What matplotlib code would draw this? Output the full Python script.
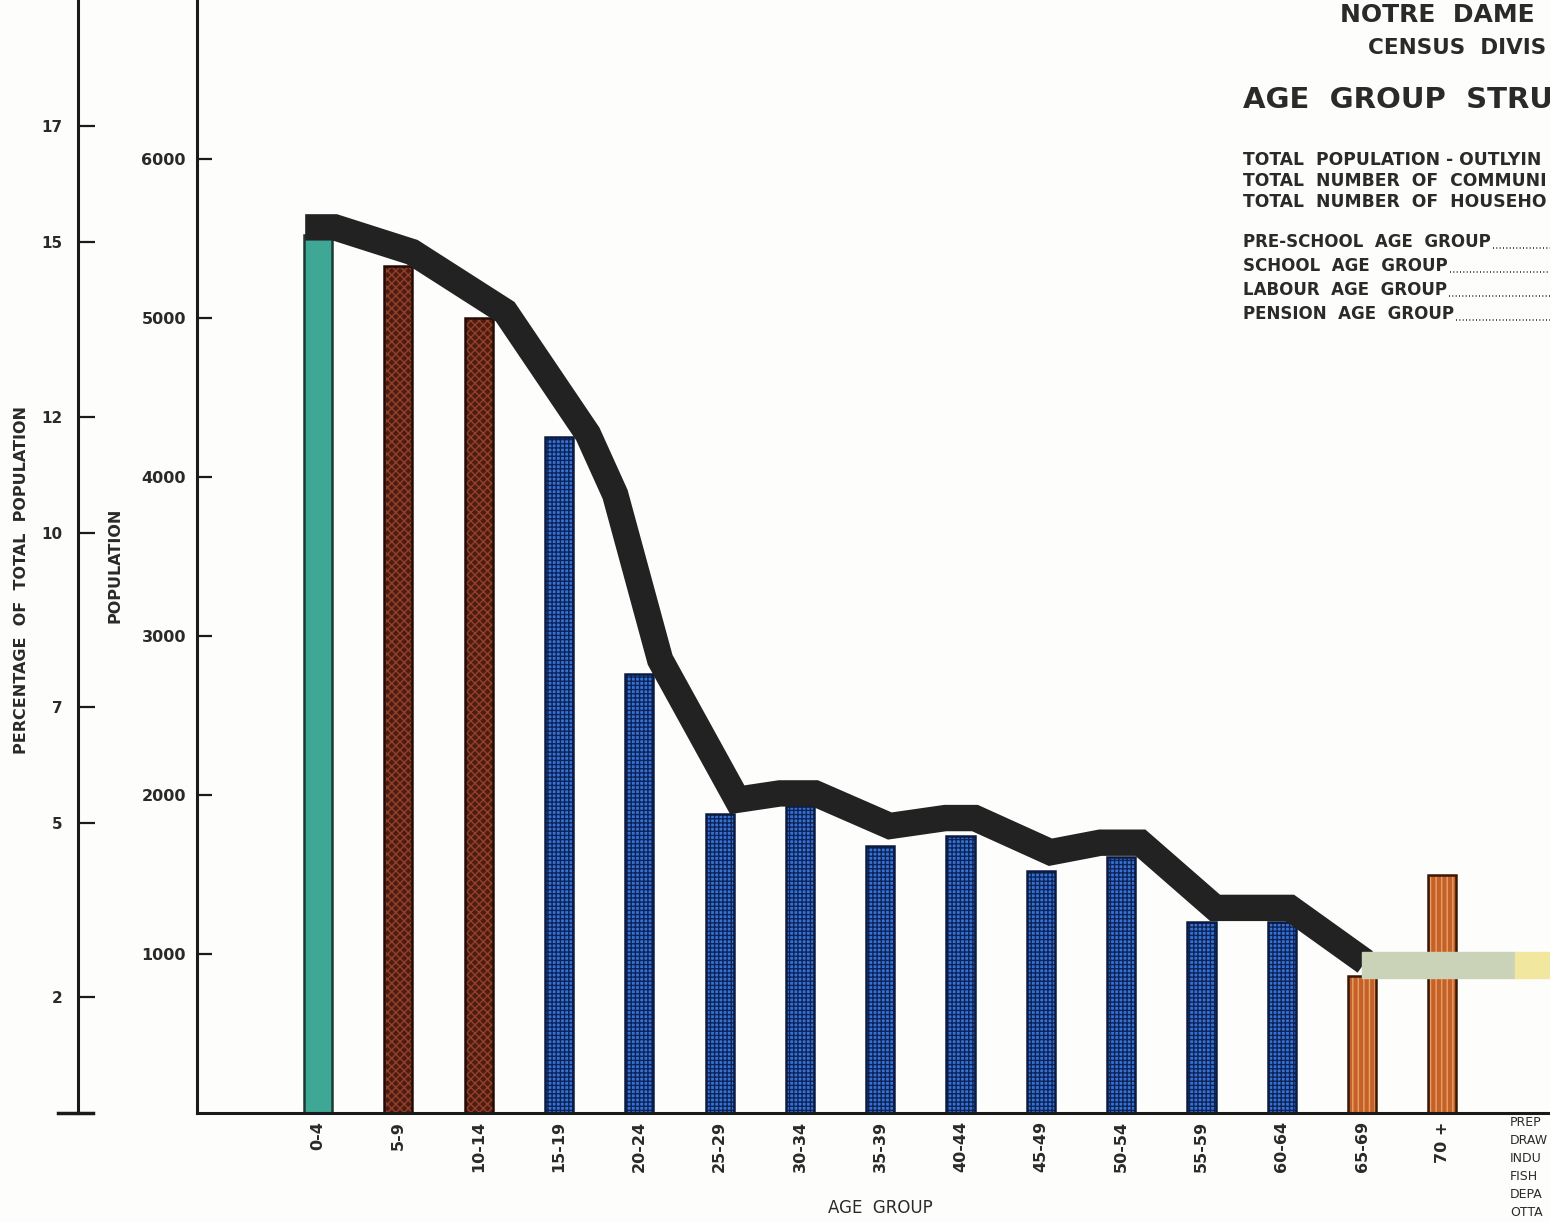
import matplotlib
matplotlib.use("Agg")
import matplotlib.pyplot as plt
from matplotlib.patches import Rectangle
from matplotlib.lines import Line2D

# Values
age_groups = ["0-4", "5-9", "10-14", "15-19", "20-24", "25-29", "30-34", "35-39",
              "40-44", "45-49", "50-54", "55-59", "60-64", "65-69", "70 +"]
population = [5520, 5330, 5000, 4250, 2760, 1880, 1930, 1680,
              1740, 1520, 1610, 1200, 1200, 860, 1500]
# category of each bar: pre-school / school / labour / pension
group_kind = ["pre", "school", "school", "labour", "labour", "labour", "labour", "labour",
              "labour", "labour", "labour", "labour", "labour", "pension", "pension"]

# heavy black trend curve (position in age-group units, population)
trend_x = [-0.16, 0.21, 1.17, 2.33, 3.36, 3.70, 4.26, 5.22, 5.75, 6.19,
           7.12, 7.81, 8.18, 9.12, 9.74, 10.24, 11.17, 12.10, 13.04]
trend_pop = [5570, 5570, 5415, 5040, 4270, 3890, 2850, 1970, 2010, 2010,
             1805, 1855, 1855, 1640, 1700, 1700, 1290, 1290, 950]

total_population = 36500  # implied by the percentage scale

pct_ticks = [2, 5, 7, 10, 12, 15, 17]
pop_ticks = [1000, 2000, 3000, 4000, 5000, 6000]

# visible (cut-off) parts of the sheet's text block
title_lines = ["NOTRE  DAME", "CENSUS  DIVIS", "AGE  GROUP  STRU"]
info_lines = ["TOTAL  POPULATION - OUTLYIN",
              "TOTAL  NUMBER  OF  COMMUNI",
              "TOTAL  NUMBER  OF  HOUSEHO"]
group_lines = ["PRE-SCHOOL  AGE  GROUP", "SCHOOL  AGE  GROUP",
               "LABOUR  AGE  GROUP", "PENSION  AGE  GROUP"]
credit_lines = ["PREP", "DRAW", "INDU", "FISH", "DEPA", "OTTA"]

styles = {
    "pre": dict(face="#3fa795", hatch=None, hcol="#3fa795", edge="#1b3a33"),
    "school": dict(face="#4e1d12", hatch="xxxx", hcol="#94402a", edge="#240c06"),
    "labour": dict(face="#3572d6", hatch="++++", hcol="#0f2456", edge="#0b1a40"),
    "pension": dict(face="#c4612a", hatch="|||", hcol="#eba062", edge="#3a1606"),
}

W, H = 1550, 1222
fig = plt.figure(figsize=(W / 100, H / 100), dpi=100)
fig.patch.set_facecolor("#fdfdfb")

ax_left, ax_bottom = 197 / W, (H - 1113) / H
ax = fig.add_axes([ax_left, ax_bottom, 1 - ax_left, 1 - ax_bottom])
ax.set_facecolor("none")

x = list(range(len(age_groups)))
width = 0.35
for i, (val, kind) in enumerate(zip(population, group_kind)):
    s = styles[kind]
    ax.bar(i, val, width, color=s["face"], edgecolor=s["hcol"], hatch=s["hatch"],
           linewidth=0, zorder=2)
    ax.bar(i, val, width, fill=False, edgecolor=s["edge"], linewidth=1.8, zorder=2.5)

ax.plot(trend_x, trend_pop, color="#222222", lw=19, solid_joinstyle="miter",
        solid_capstyle="butt", zorder=3)

ax.set_xlim(-1.507, 15.34)
ax.set_ylim(0, 7000)

for side in ["top", "right"]:
    ax.spines[side].set_visible(False)
for side in ["left", "bottom"]:
    ax.spines[side].set_linewidth(2.2)
    ax.spines[side].set_color("#1a1a1a")

ax.set_yticks(pop_ticks)
ax.set_yticklabels([str(t) for t in pop_ticks], fontsize=11.5, fontweight="bold",
                   color="#2a2a2a")
ax.tick_params(axis="y", direction="in", length=11, width=1.6, pad=8, color="#1a1a1a")

ax.set_xticks(x)
ax.set_xticklabels(age_groups, rotation=90, fontsize=11.5, fontweight="bold",
                   color="#2a2a2a")
ax.tick_params(axis="x", length=0, pad=6)

# percentage scale on a second spine further left
sec = ax.secondary_yaxis((78 - 197) / 1353,
                         functions=(lambda p: p / total_population * 100,
                                    lambda q: q * total_population / 100))
sec.set_yticks(pct_ticks)
sec.set_yticklabels([str(t) for t in pct_ticks], fontsize=11, fontweight="bold",
                    color="#2a2a2a")
sec.tick_params(direction="in", length=12, width=1.6, pad=11, color="#1a1a1a")
sec.spines["left"].set_linewidth(2.2)
sec.spines["left"].set_color("#1a1a1a")

fig.add_artist(Line2D([58 / W, 93 / W], [ax_bottom, ax_bottom], color="#1a1a1a", lw=2.5))

# scanned tape strip over the lower right
ax.add_patch(Rectangle((1362 / W, (H - 978) / H), (1515 - 1362) / W, 26 / H,
                       transform=fig.transFigure, color="#cad2b8", zorder=6, clip_on=False))
ax.add_patch(Rectangle((1515 / W, (H - 978) / H), 40 / W, 26 / H,
                       transform=fig.transFigure, color="#f1e79f", zorder=6, clip_on=False))

lab = dict(fontweight="bold", color="#2a2a2a")
fig.text(22 / W, 1 - 580 / H, "PERCENTAGE  OF  TOTAL  POPULATION", rotation=90,
         ha="center", va="center", fontsize=11.5, **lab)
fig.text(115 / W, 1 - 565 / H, "POPULATION", rotation=90, ha="center", va="center",
         fontsize=11.5, **lab)
fig.text(880 / W, 1 - 1208 / H, "AGE  GROUP", ha="center", va="center", fontsize=12,
         color="#2a2a2a")

# title block, running off the right edge of the sheet
fig.text(1340 / W, 1 - 15 / H, title_lines[0], ha="left", va="center", fontsize=18, **lab)
fig.text(1368 / W, 1 - 48 / H, title_lines[1], ha="left", va="center", fontsize=15.5, **lab)
fig.text(1243 / W, 1 - 100 / H, title_lines[2], ha="left", va="center", fontsize=21, **lab)
for k, t in enumerate(info_lines):
    fig.text(1243 / W, 1 - (160 + 21 * k) / H, t, ha="left", va="center",
             fontsize=12.3, **lab)

renderer = fig.canvas.get_renderer()
for k, t in enumerate(group_lines):
    y = 1 - (242 + 24 * k) / H
    txt = fig.text(1243 / W, y, t, ha="left", va="center", fontsize=12, **lab)
    x_end = txt.get_window_extent(renderer).x1 / W
    y_dots = y - 6 / H
    fig.add_artist(Line2D([x_end + 2 / W, 1.0], [y_dots, y_dots], color="#2a2a2a",
                          lw=1.2, linestyle=(0, (0.6, 1.4))))

for k, t in enumerate(credit_lines):
    fig.text(1510 / W, 1 - (1123 + 18 * k) / H, t, ha="left", va="center",
             fontsize=9, color="#2a2a2a")

fig.savefig("out.png", dpi=100)
